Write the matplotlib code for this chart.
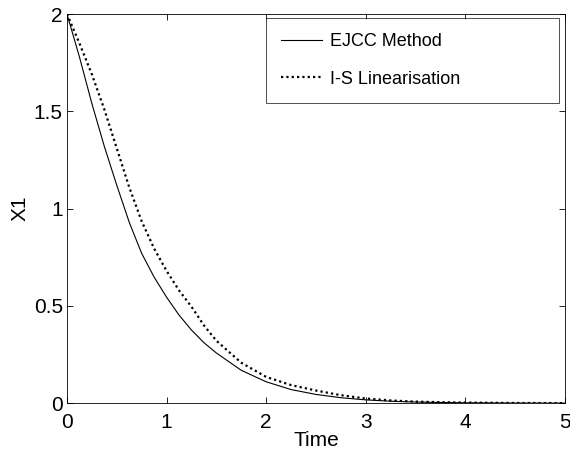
import matplotlib
matplotlib.use("Agg")
import matplotlib.pyplot as plt

plt.rcParams['font.family'] = ['Liberation Sans', 'DejaVu Sans']

# values
time = [0, 0.125, 0.25, 0.375, 0.5, 0.625, 0.75, 0.875, 1.0, 1.125, 1.25,
        1.375, 1.5, 1.75, 2.0, 2.25, 2.5, 2.75, 3.0, 3.25, 3.5, 3.75, 4.0,
        4.5, 5.0]
ejcc = [2.00, 1.78, 1.54, 1.32, 1.12, 0.93, 0.77, 0.648, 0.545, 0.453, 0.376,
        0.311, 0.258, 0.169, 0.11, 0.07, 0.045, 0.028, 0.017, 0.010, 0.006,
        0.0035, 0.002, 0.0007, 0.0002]
isl = [2.00, 1.85, 1.69, 1.51, 1.31, 1.11, 0.935, 0.795, 0.68, 0.58, 0.496,
       0.40, 0.321, 0.208, 0.135, 0.093, 0.065, 0.041, 0.024, 0.014, 0.008,
       0.005, 0.003, 0.001, 0.0003]

xticks = [0, 1, 2, 3, 4, 5]
yticks = [0, 0.5, 1, 1.5, 2]

fig = plt.figure(figsize=(5.7, 4.53), dpi=100)
ax = fig.add_axes([0.1175, 0.110, 0.8735, 0.859])

ax.plot(time, ejcc, color='black', linewidth=0.8, label='EJCC Method')
ax.plot(time, isl, color='black', linewidth=1.6, linestyle=(0, (1, 1.4)),
        label='I-S Linearisation')

ax.set_xlim(0, 5)
ax.set_ylim(0, 2)
ax.set_xticks(xticks)
ax.set_yticks(yticks)
ax.set_xticklabels(['0', '1', '2', '3', '4', '5'])
ax.set_yticklabels(['0', '0.5', '1', '1.5', '2'])
ax.tick_params(direction='in', top=True, right=True, labelsize=15, length=4,
               width=0.6)
ax.tick_params(axis='x', pad=7)
ax.tick_params(axis='y', pad=3)
for s in ax.spines.values():
    s.set_linewidth(0.6)

ax.set_xlabel('Time', fontsize=15, labelpad=-1)
ax.set_ylabel('X1', fontsize=15, labelpad=3)

leg = ax.legend(loc='upper left', bbox_to_anchor=(0.40, 0.771, 0.588, 0.219),
                mode='expand', fontsize=13, frameon=True, fancybox=False,
                edgecolor='black', handlelength=2.25, handletextpad=0.45,
                labelspacing=1.12, borderpad=0.85, borderaxespad=0)
leg.get_frame().set_linewidth(0.6)

fig.savefig('out.png', dpi=100)
